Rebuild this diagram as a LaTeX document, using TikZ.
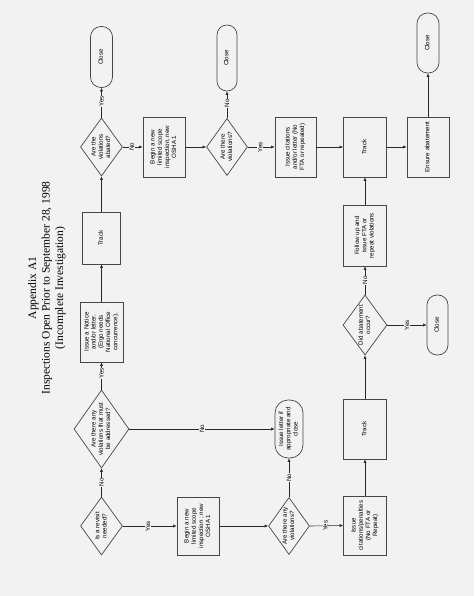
\documentclass[tikz,border=0pt]{standalone}
\usepackage{fontspec}
\setmainfont{Liberation Serif}
\newfontfamily\boxfont{Liberation Sans}
\usetikzlibrary{shapes.geometric,arrows.meta}
\definecolor{paper}{RGB}{242,242,242}
\definecolor{ink}{RGB}{70,70,70}
\definecolor{wire}{RGB}{40,40,40}
\newcommand\rt[1]{\rotatebox{90}{\begin{tabular}{@{}c@{}}#1\end{tabular}}}
\begin{document}
\begin{tikzpicture}[x=1pt,y=-1pt,
  every node/.style={font=\boxfont\fontsize{6.2}{7.2}\selectfont},
  sz/.style n args={2}{minimum width=#1pt,minimum height=#2pt},
  box/.style={draw=ink,line width=0.7pt,rectangle,inner sep=0pt},
  dia/.style={draw=ink,line width=0.7pt,diamond,inner sep=0pt},
  term/.style={draw=ink,line width=0.7pt,rectangle,inner sep=0pt,rounded corners=#1pt},
  txt/.style={inner sep=0pt},
  conn/.style={draw=wire,line width=0.6pt,-{Latex[length=3.6pt,width=3.2pt]}},
  plain/.style={draw=wire,line width=0.6pt},
  lbl/.style={rotate=90,fill=paper,inner sep=0.7pt}]
\fill[paper] (0,0) rectangle (474,596);
\useasboundingbox (0,0) rectangle (474,596);

% title
\node[rotate=90,align=center,inner sep=0pt,font=\rmfamily\fontsize{11.5}{13.5}\selectfont] (title) at (47,288)
  {Appendix A1\\Inspections Open Prior to September 28, 1998\\(Incomplete Investigation)};

% left column
\node[dia,sz={42}{58}] (d1) at (101.5,526) {};
\node[txt] (d1t) at (d1) {\rt{Is a revisit\\needed?}};
\node[dia,sz={55}{78}] (d2) at (101.5,429) {};
\node[txt] (d2t) at (d2) {\rt{Are there any\\violations that must\\be addressed?}};
\node[box,sz={43}{60}] (notice) at (101.5,332) {\rt{Issue a Notice\\and/or letter.\\(Ergo needs\\National Office\\concurrence).}};
\node[box,sz={38}{52}] (track1) at (101.5,238) {\rt{Track}};
\node[dia,sz={42}{58}] (d3) at (101.5,147) {};
\node[txt] (d3t) at (d3) {\rt{Are the\\violations\\abated?}};
\node[term=10.5,sz={22}{61}] (close1) at (101.5,57) {\rt{Close}};

% top row
\node[box,sz={42}{60}] (begin1) at (164,147) {\rt{Begin a new\\limited scope\\inspection, new\\OSHA 1}};
\node[dia,sz={41}{57}] (d4) at (227,147) {};
\node[txt] (d4t) at (d4) {\rt{Are there\\violations?}};
\node[term=9.8,sz={20}{66}] (close2) at (227,58) {\rt{Close}};
\node[box,sz={41}{60}] (cit1) at (295.5,147) {\rt{Issue citations\\and/or letter (No\\FTA or repeated)}};
\node[box,sz={43}{60}] (track2) at (365,147) {\rt{Track}};
\node[box,sz={42}{60}] (ensure) at (428,147) {\rt{Ensure abatement}};
\node[term=10.5,sz={22}{60}] (close3) at (428,43) {\rt{Close}};

% right column
\node[box,sz={43}{61}] (follow) at (365,235.5) {\rt{Follow up and\\issue FTA or\\repeat violations}};
\node[dia,sz={44}{60}] (d5) at (365,325) {};
\node[txt] (d5t) at (d5) {\rt{Did abatement\\occur?}};
\node[term=10,sz={21}{60}] (close4) at (437.5,325) {\rt{Close}};
\node[box,sz={43}{60}] (track3) at (365,429) {\rt{Track}};
\node[box,sz={43}{59}] (cit2) at (365,525.5) {\rt{Issue\\citations/penalties\\(No FTA or\\Repeat)}};

% bottom row
\node[box,sz={42}{58}] (begin2) at (198,526) {\rt{Begin a new\\limited scope\\inspection ; new\\OSHA 1}};
\node[dia,sz={41}{57}] (d6) at (289,526) {};
\node[txt] (d6t) at (d6) {\rt{Are there any\\violations?}};
\node[term=13,sz={28}{58}] (letter) at (289,429) {\rt{Issue letter if\\appropriate and\\close}};

% connectors
\draw[conn] (d1.north) -- node[lbl,pos=0.5]{No} (d2.south);
\draw[conn] (d2.north) -- node[lbl,pos=0.6]{Yes} (notice.south);
\draw[conn] (notice.north) -- (track1.south);
\draw[conn] (track1.north) -- (d3.south);
\draw[conn] (d3.north) -- node[lbl,pos=0.55]{Yes} (close1.south);
\draw[conn] (d3.east) -- node[lbl,pos=0.45]{No} (begin1.west);
\draw[conn] (begin1.east) -- (d4.west);
\draw[conn] (d4.north) -- node[lbl,pos=0.55]{No} (close2.south);
\draw[conn] (d4.east) -- node[lbl,pos=0.46]{Yes} (cit1.west);
\draw[conn] (cit1.east) -- (track2.west);
\draw[conn] (track2.east) -- (ensure.west);
\draw[conn] (ensure.north) -- (close3.south);
\draw[conn] (follow.north) -- (track2.south);
\draw[conn] (d5.north) -- node[lbl,pos=0.5]{No} (follow.south);
\draw[conn] (d5.east) -- node[lbl,pos=0.5]{Yes} (close4.west);
\draw[conn] (track3.north) -- (d5.south);
\draw[conn] (cit2.north) -- (track3.south);
\draw[conn] (d6.east) -- node[lbl,pos=0.47]{Yes} (cit2.west);
\draw[conn] (d6.north) -- node[lbl,pos=0.5]{No} (letter.south);
\draw[conn] (d2.east) -- node[lbl,pos=0.5]{No} (letter.west);
\draw[conn] (d1.east) -- node[lbl,pos=0.47]{Yes} (begin2.west);
\draw[conn] (begin2.east) -- (d6.west);
\end{tikzpicture}
\end{document}
